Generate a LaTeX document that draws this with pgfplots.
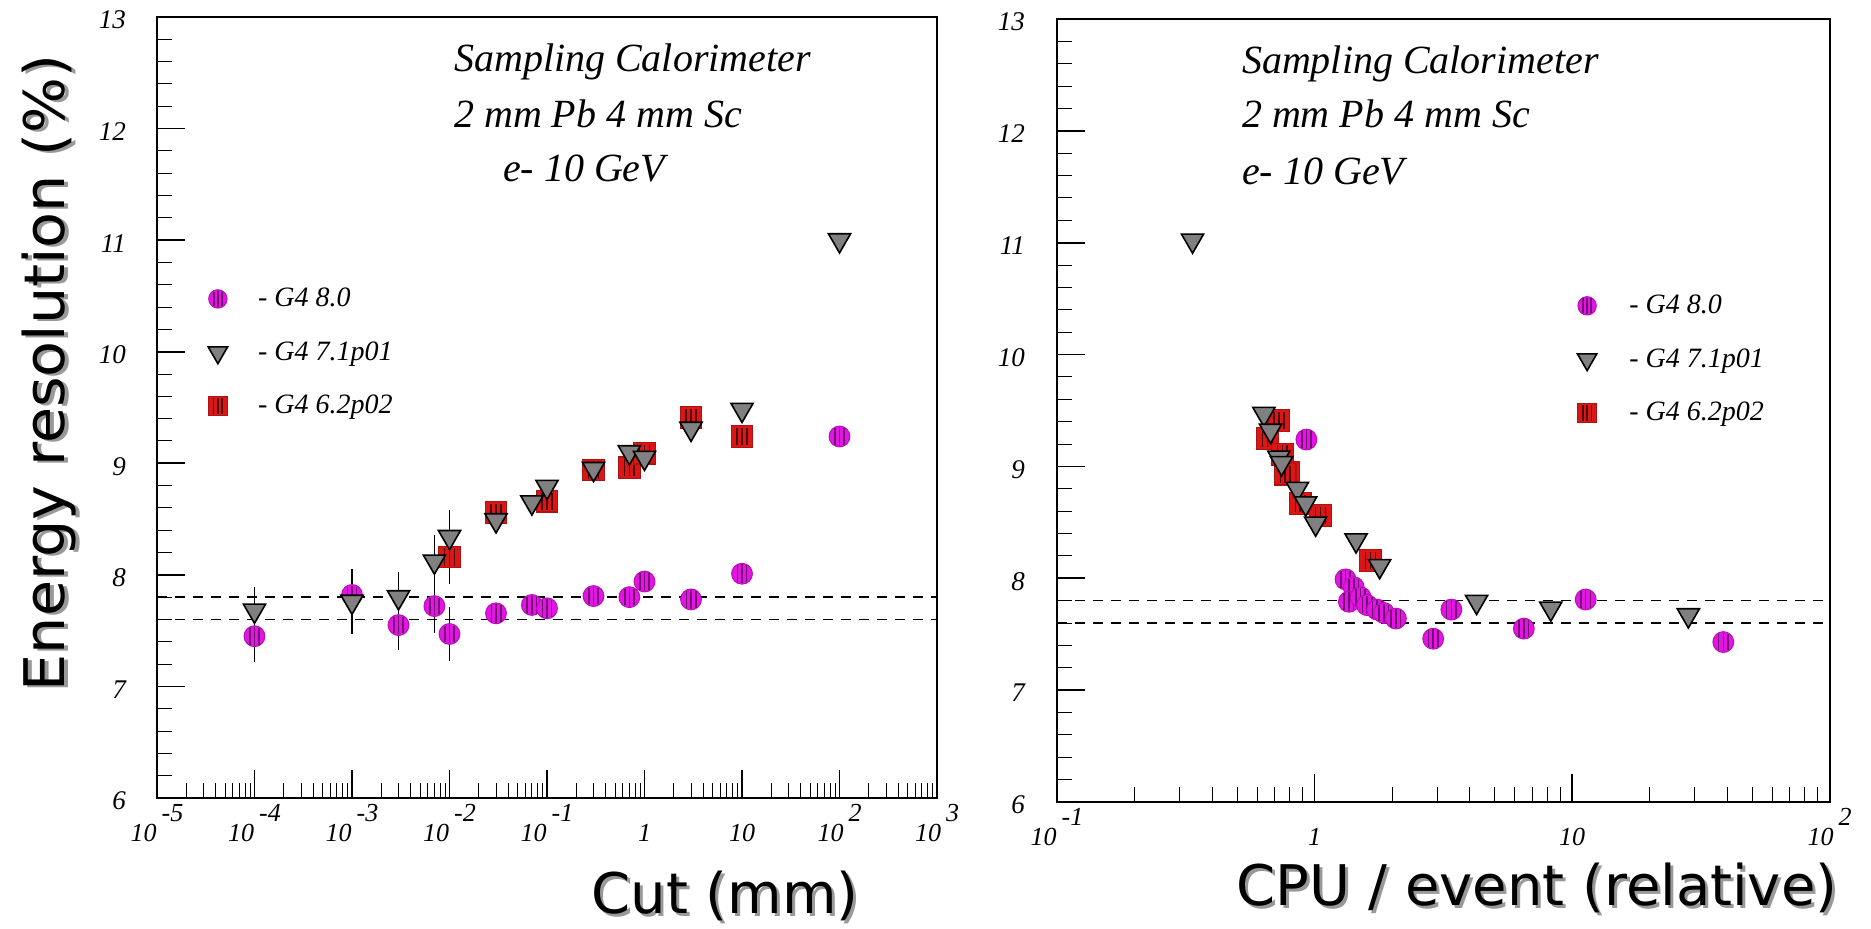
\documentclass[border=0pt]{standalone}
\usepackage{pgfplots}
\usepackage{pgfplotstable}
\pgfplotsset{compat=1.18}
\usepackage{fontspec}
\setmainfont{Liberation Serif}
\newfontfamily\labelfont{DejaVu Sans}
\definecolor{mag}{RGB}{228,20,228}
\definecolor{sqred}{RGB}{218,22,22}

\pgfdeclareplotmark{scirc}{%
  \pgfscope
  \pgfpathcircle{\pgfpointorigin}{\pgfplotmarksize}%
  \pgfsetfillcolor{mag}\pgfsetstrokecolor{mag!80!black}\pgfsetlinewidth{0.5pt}%
  \pgfusepath{fill,stroke}%
  \pgfsetlinewidth{0.8pt}\pgfsetstrokecolor{mag!50!black}%
  \pgfpathmoveto{\pgfpoint{-0.45\pgfplotmarksize}{-0.8\pgfplotmarksize}}\pgfpathlineto{\pgfpoint{-0.45\pgfplotmarksize}{0.8\pgfplotmarksize}}%
  \pgfpathmoveto{\pgfpoint{0pt}{-0.9\pgfplotmarksize}}\pgfpathlineto{\pgfpoint{0pt}{0.9\pgfplotmarksize}}%
  \pgfpathmoveto{\pgfpoint{0.45\pgfplotmarksize}{-0.8\pgfplotmarksize}}\pgfpathlineto{\pgfpoint{0.45\pgfplotmarksize}{0.8\pgfplotmarksize}}%
  \pgfusepath{stroke}%
  \endpgfscope
}
\pgfdeclareplotmark{ssq}{%
  \pgfscope
  \pgfpathrectangle{\pgfpoint{-\pgfplotmarksize}{-\pgfplotmarksize}}{\pgfpoint{2\pgfplotmarksize}{2\pgfplotmarksize}}%
  \pgfsetfillcolor{sqred}\pgfsetstrokecolor{sqred!80!black}\pgfsetlinewidth{0.6pt}%
  \pgfusepath{fill,stroke}%
  \pgfsetlinewidth{0.8pt}\pgfsetstrokecolor{sqred!35!black}%
  \pgfpathmoveto{\pgfpoint{-0.45\pgfplotmarksize}{-0.8\pgfplotmarksize}}\pgfpathlineto{\pgfpoint{-0.45\pgfplotmarksize}{0.8\pgfplotmarksize}}%
  \pgfpathmoveto{\pgfpoint{0pt}{-0.8\pgfplotmarksize}}\pgfpathlineto{\pgfpoint{0pt}{0.8\pgfplotmarksize}}%
  \pgfpathmoveto{\pgfpoint{0.45\pgfplotmarksize}{-0.8\pgfplotmarksize}}\pgfpathlineto{\pgfpoint{0.45\pgfplotmarksize}{0.8\pgfplotmarksize}}%
  \pgfusepath{stroke}%
  \endpgfscope
}

% ---------------- left plot data (cut in mm) ----------------
\pgfplotstableread{
x y e
1e-4 7.45 0.23
1e-3 7.82 0
0.003 7.55 0.22
0.007 7.72 0.24
0.01 7.47 0.24
0.03 7.655 0
0.07 7.73 0
0.1 7.70 0
0.3 7.81 0
0.7 7.80 0
1 7.94 0
3 7.78 0
10 8.01 0
100 9.24 0
}\lcirc
\pgfplotstableread{
x y e
1e-4 7.68 0.21
1e-3 7.76 0.29
0.003 7.80 0.23
0.007 8.12 0.24
0.01 8.34 0.24
0.03 8.49 0
0.07 8.65 0
0.1 8.79 0
0.3 8.95 0
0.7 9.10 0
1 9.05 0
3 9.31 0
10 9.48 0
100 11.0 0
}\ltri
\pgfplotstableread{
x y e
0.01 8.16 0.24
0.03 8.56 0
0.1 8.66 0
0.3 8.94 0
0.7 8.96 0
1 9.09 0
3 9.41 0
10 9.24 0
}\lsq
% ---------------- right plot data (CPU / event) ----------------
\pgfplotstableread{
x y
0.93 9.24
1.32 7.99
1.42 7.92
1.36 7.79
1.51 7.83
1.60 7.76
1.75 7.72
1.86 7.69
2.07 7.64
2.89 7.46
3.40 7.72
6.5 7.55
11.3 7.81
38.7 7.43
}\rcirc
\pgfplotstableread{
x y
0.336 11.02
0.636 9.47
0.675 9.32
0.727 9.08
0.745 9.03
0.858 8.80
0.924 8.67
1.01 8.49
1.45 8.34
1.79 8.11
4.26 7.79
8.27 7.73
28.3 7.67
}\rtri
\pgfplotstableread{
x y
0.727 9.41
0.656 9.25
0.75 9.11
0.795 8.95
0.77 8.93
0.88 8.67
1.055 8.56
1.65 8.16
}\rsq

\pgfplotsset{
  circstyle/.style={only marks, mark=scirc, mark size=5.2pt},
  tristyle/.style={only marks, mark=triangle*, mark size=6.4pt,
     mark options={rotate=180, draw=black, fill=black!50, line width=0.8pt}},
  sqstyle/.style={only marks, mark=ssq, mark size=5.4pt},
}

\newcommand{\tl}[1]{\textit{10}\hspace{2.5pt}\raisebox{10pt}{\textit{#1}}}

\begin{document}
\begin{tikzpicture}
\path[use as bounding box] (0,0) rectangle (935.5pt,464.5pt);

% ---------- left axis ----------
\begin{axis}[
  scale only axis,
  xmode=log,
  ymin=6, ymax=13,
  ytick={6,7,8,9,10,11,12,13},
  yticklabels={6,7,8,9,10,11,12,13},
  minor y tick num=4,
  tick align=inside,
  tick pos=left,
  major tick length=14pt,
  minor tick length=7.5pt,
  axis line style={line width=1pt},
  every major tick/.append style={line width=0.8pt, black},
  every minor tick/.append style={line width=0.5pt, black},
  yticklabel style={font=\fontsize{13.5}{15}\selectfont\itshape, xshift=-12pt, yshift=-1.5pt},
  xticklabel style={font=\fontsize{13}{15}\selectfont\itshape, anchor=base, yshift=-22pt},
  legend cell align=left,
  legend style={draw=none, fill=none, inner sep=0pt, outer sep=0pt,
     row sep=12pt, column sep=13pt,
     font=\fontsize{14}{16}\selectfont\itshape,
     at={(axis description cs:0.065,0.658)}, anchor=north west},
  at={(78.5pt,65.5pt)}, anchor=south west,
  width=390pt, height=390.5pt,
  xmin=1e-5, xmax=1e3,
  xtick={1e-5,1e-4,1e-3,1e-2,1e-1,1,10,100,1000},
  xticklabels={{\tl{-5}},{\tl{-4}},{\tl{-3}},{\tl{-2}},{\tl{-1}},{\textit{1}},{\textit{10}},{\tl{2}},{\tl{3}}},
  minor xtick={2e-5,3e-5,4e-5,5e-5,6e-5,7e-5,8e-5,9e-5,2e-4,3e-4,4e-4,5e-4,6e-4,7e-4,8e-4,9e-4,2e-3,3e-3,4e-3,5e-3,6e-3,7e-3,8e-3,9e-3,0.02,0.03,0.04,0.05,0.06,0.07,0.08,0.09,0.2,0.3,0.4,0.5,0.6,0.7,0.8,0.9,2,3,4,5,6,7,8,9,20,30,40,50,60,70,80,90,200,300,400,500,600,700,800,900},
]
\addlegendimage{circstyle, mark size=4.6pt}\addlegendentry{- G4 8.0}
\addlegendimage{tristyle, mark size=5.6pt}\addlegendentry{- G4 7.1p01}
\addlegendimage{sqstyle, mark size=4.8pt}\addlegendentry{- G4 6.2p02}
\addplot[black, dash pattern=on 5pt off 4pt, line width=0.8pt, forget plot] coordinates {(1e-5,7.8) (1e3,7.8)};
\addplot[black, dash pattern=on 5pt off 4pt, line width=0.8pt, forget plot] coordinates {(1e-5,7.6) (1e3,7.6)};
\addplot[circstyle, forget plot, error bars/y dir=both, error bars/y explicit, error bars/error mark=none, error bars/error bar style={black, line width=0.6pt}] table[x=x, y=y, y error=e] {\lcirc};
\addplot[sqstyle, forget plot, error bars/y dir=both, error bars/y explicit, error bars/error mark=none, error bars/error bar style={black, line width=0.6pt}] table[x=x, y=y, y error=e] {\lsq};
\addplot[tristyle, forget plot, error bars/y dir=both, error bars/y explicit, error bars/error mark=none, error bars/error bar style={black, line width=0.6pt}] table[x=x, y=y, y error=e] {\ltri};
\node[anchor=base west, font=\fontsize{20}{24}\selectfont\itshape] at (rel axis cs:0.372,0.9296) {Sampling Calorimeter};
\node[anchor=base west, font=\fontsize{20}{24}\selectfont\itshape] at (rel axis cs:0.372,0.858) {2 mm Pb 4 mm Sc};
\node[anchor=base west, font=\fontsize{20}{24}\selectfont\itshape] at (rel axis cs:0.4346,0.789) {e- 10 GeV};
\end{axis}

% ---------- right axis ----------
\begin{axis}[
  scale only axis,
  xmode=log,
  ymin=6, ymax=13,
  ytick={6,7,8,9,10,11,12,13},
  yticklabels={6,7,8,9,10,11,12,13},
  minor y tick num=4,
  tick align=inside,
  tick pos=left,
  major tick length=14pt,
  minor tick length=7.5pt,
  axis line style={line width=1pt},
  every major tick/.append style={line width=0.8pt, black},
  every minor tick/.append style={line width=0.5pt, black},
  yticklabel style={font=\fontsize{13.5}{15}\selectfont\itshape, xshift=-12.5pt, yshift=-1.5pt},
  xticklabel style={font=\fontsize{13}{15}\selectfont\itshape, anchor=base, yshift=-22pt},
  legend cell align=left,
  legend style={draw=none, fill=none, inner sep=0pt, outer sep=0pt,
     row sep=12pt, column sep=14pt,
     font=\fontsize{14}{16}\selectfont\itshape,
     at={(axis description cs:0.673,0.6526)}, anchor=north west},
  at={(528.5pt,63.5pt)}, anchor=south west,
  width=386.25pt, height=391.5pt,
  xmin=0.1, xmax=100,
  xtick={0.1,1,10,100},
  xticklabels={{\tl{-1}},{\textit{1}},{\textit{10}},{\tl{2}}},
  minor xtick={0.2,0.3,0.4,0.5,0.6,0.7,0.8,0.9,2,3,4,5,6,7,8,9,20,30,40,50,60,70,80,90},
]
\addlegendimage{circstyle, mark size=4.6pt}\addlegendentry{- G4 8.0}
\addlegendimage{tristyle, mark size=5.6pt}\addlegendentry{- G4 7.1p01}
\addlegendimage{sqstyle, mark size=4.8pt}\addlegendentry{- G4 6.2p02}
\addplot[black, dash pattern=on 5pt off 4pt, line width=0.8pt, forget plot] coordinates {(0.1,7.8) (100,7.8)};
\addplot[black, dash pattern=on 5pt off 4pt, line width=0.8pt, forget plot] coordinates {(0.1,7.6) (100,7.6)};
\addplot[circstyle, forget plot] table[x=x, y=y] {\rcirc};
\addplot[sqstyle, forget plot] table[x=x, y=y] {\rsq};
\addplot[tristyle, forget plot] table[x=x, y=y] {\rtri};
\node[anchor=base west, font=\fontsize{20}{24}\selectfont\itshape] at (rel axis cs:0.2304,0.931) {Sampling Calorimeter};
\node[anchor=base west, font=\fontsize{20}{24}\selectfont\itshape] at (rel axis cs:0.2304,0.861) {2 mm Pb 4 mm Sc};
\node[anchor=base west, font=\fontsize{20}{24}\selectfont\itshape] at (rel axis cs:0.2304,0.789) {e- 10 GeV};
\end{axis}

% ---------- axis titles (with drop shadow) ----------
\node[rotate=90, anchor=base, font=\labelfont\fontsize{28}{32}\selectfont, text=black!40, xscale=1.05] at (34pt,277pt) {Energy resolution (\%)};
\node[rotate=90, anchor=base, font=\labelfont\fontsize{28}{32}\selectfont, xscale=1.05] at (32pt,278pt) {Energy resolution (\%)};
\node[anchor=base, font=\labelfont\fontsize{28}{32}\selectfont, text=black!40] at (364pt,6pt) {Cut (mm)};
\node[anchor=base, font=\labelfont\fontsize{28}{32}\selectfont] at (362.5pt,7.5pt) {Cut (mm)};
\node[anchor=base, font=\labelfont\fontsize{28}{32}\selectfont, text=black!40] at (770pt,10pt) {CPU / event (relative)};
\node[anchor=base, font=\labelfont\fontsize{28}{32}\selectfont] at (768.5pt,11.5pt) {CPU / event (relative)};
\end{tikzpicture}
\end{document}
